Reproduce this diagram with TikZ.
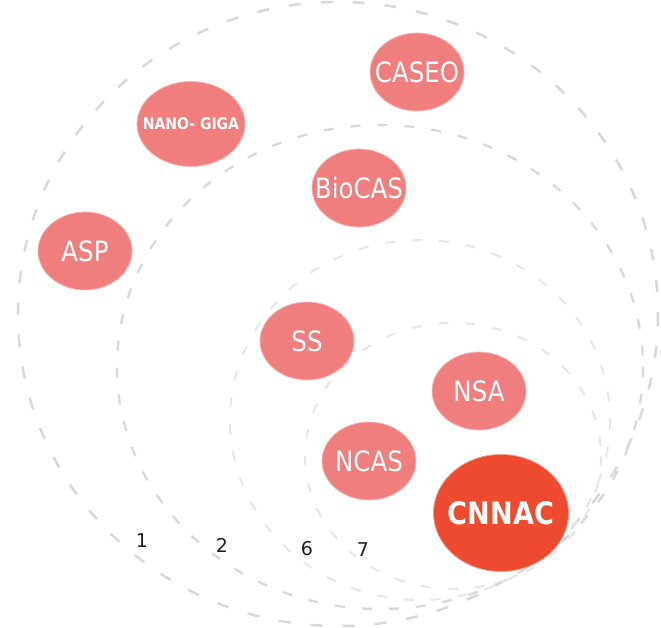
\documentclass[tikz,border=0pt]{standalone}
\usepackage{fontspec}
\setmainfont{DejaVu Sans}
\newfontfamily\bubblefont[FakeStretch=0.875]{DejaVu Sans}
\usetikzlibrary{shapes.geometric}

\definecolor{bubblepink}{HTML}{F07E7E}
\definecolor{bubblered}{HTML}{EE4A30}
\definecolor{ringgray}{HTML}{D8D8D8}
\definecolor{ringlight}{HTML}{E6E6E6}

\begin{document}
\begin{tikzpicture}[x=1pt, y=-1pt]
        \tikzset{
          bubble/.style={
            ellipse,
            fill=bubblepink,
            draw=white!45!bubblepink,
            line width=0.8pt,
            text=white,
            inner sep=0pt,
            minimum width=94pt,
            minimum height=78pt,
            font=\bubblefont\fontsize{28}{30}\selectfont,
            execute at begin node={\hbox to 0pt\bgroup\hss},
            execute at end node={\hss\egroup},
          },
          outerring/.style={draw=ringgray, line width=2.5pt, dash pattern=on 12pt off 20pt},
          ring/.style={draw=ringgray, line width=2.3pt, dash pattern=on 10pt off 17pt},
          innerring/.style={draw=ringlight, line width=2pt, dash pattern=on 10pt off 17pt},
          ringlabel/.style={fill=white, inner sep=1pt, text=black!88,
            font=\fontsize{19}{21}\selectfont},
        }
        \useasboundingbox (0,0) rectangle (661,628);
        % rings
        \coordinate (r1) at (338,314);
        \coordinate (r2) at (380,367);
        \coordinate (r6) at (420,420);
        \coordinate (r7) at (453,456);
        \draw[outerring] (r1) ellipse [x radius=320, y radius=312];
        \draw[ring] (r2) ellipse [x radius=263, y radius=242];
        \draw[innerring] (r6) ellipse [x radius=190, y radius=180];
        \draw[innerring] (r7) ellipse [x radius=148, y radius=133];
        \node[ringlabel] (l1) at (142,541) {1};
        \node[ringlabel] (l2) at (222,545) {2};
        \node[ringlabel] (l6) at (307,549) {6};
        \node[ringlabel] (l7) at (363,550) {7};
        % bubbles
        \node[bubble] (caseo) at (417,72) {CASEO};
        \node[bubble, minimum width=108pt, minimum height=85pt,
          font=\bubblefont\fontsize{16}{18}\selectfont\bfseries] (nanogiga) at (191,124) {NANO- GIGA};
        \node[bubble] (biocas) at (359,188) {BioCAS};
        \node[bubble] (asp) at (85,251) {ASP};
        \node[bubble] (ss) at (307,341) {SS};
        \node[bubble] (nsa) at (479,391) {NSA};
        \node[bubble] (ncas) at (369,461) {NCAS};
        \node[bubble, fill=bubblered, draw=white!45!bubblered, minimum width=135pt,
          minimum height=117pt, font=\bubblefont\fontsize{31}{33}\selectfont\bfseries] (cnnac) at (501,513) {CNNAC};
\end{tikzpicture}
\end{document}
